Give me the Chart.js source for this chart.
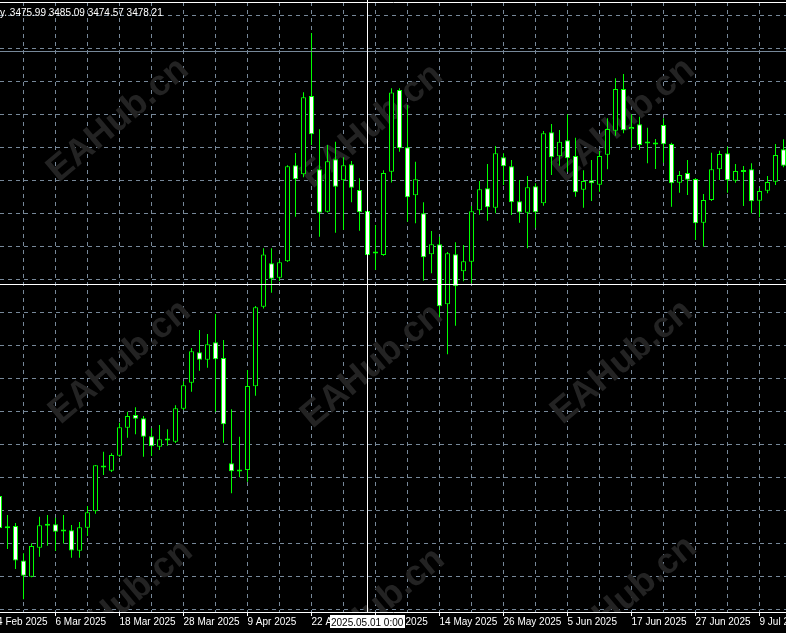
<!DOCTYPE html>
<html lang="en">
<head>
  <meta charset="utf-8">
  <title>XAUUSD Daily</title>
  <script src="https://cdn.jsdelivr.net/npm/chart.js@4"></script>
  <style>
html, body {
  margin: 0;
  padding: 0;
  background: #000;
}
#content {
  width: 786px;
  height: 633px;
}
  </style>
</head>
<body>
  <div id="content">
    <canvas id="price-chart" width="786" height="633"></canvas>
  </div>
  <script>
// daily bars, Feb 24 is off the left edge so it has no values
const dates = [
  '2025.02.24','2025.02.25','2025.02.26','2025.02.27','2025.02.28',
  '2025.03.03','2025.03.04','2025.03.05','2025.03.06','2025.03.07',
  '2025.03.10','2025.03.11','2025.03.12','2025.03.13','2025.03.14',
  '2025.03.17','2025.03.18','2025.03.19','2025.03.20','2025.03.21',
  '2025.03.24','2025.03.25','2025.03.26','2025.03.27','2025.03.28',
  '2025.03.31','2025.04.01','2025.04.02','2025.04.03','2025.04.04',
  '2025.04.07','2025.04.08','2025.04.09','2025.04.10','2025.04.11',
  '2025.04.14','2025.04.15','2025.04.16','2025.04.17','2025.04.21',
  '2025.04.22','2025.04.23','2025.04.24','2025.04.25','2025.04.28',
  '2025.04.29','2025.04.30','2025.05.01','2025.05.02','2025.05.05',
  '2025.05.06','2025.05.07','2025.05.08','2025.05.09','2025.05.12',
  '2025.05.13','2025.05.14','2025.05.15','2025.05.16','2025.05.19',
  '2025.05.20','2025.05.21','2025.05.22','2025.05.23','2025.05.26',
  '2025.05.27','2025.05.28','2025.05.29','2025.05.30','2025.06.02',
  '2025.06.03','2025.06.04','2025.06.05','2025.06.06','2025.06.09',
  '2025.06.10','2025.06.11','2025.06.12','2025.06.13','2025.06.16',
  '2025.06.17','2025.06.18','2025.06.19','2025.06.20','2025.06.23',
  '2025.06.24','2025.06.25','2025.06.26','2025.06.27','2025.06.30',
  '2025.07.01','2025.07.02','2025.07.03','2025.07.04','2025.07.07',
  '2025.07.08','2025.07.09','2025.07.10','2025.07.11','2025.07.14'
];

const opens = [
  null, 2953.7, 2915.5, 2918.3, 2877.6, 2858.4, 2892.7, 2918.6, 2920.3, 2911.8,
  2913.2, 2889.1, 2916.3, 2935.6, 2987.3, 2983.5, 3001.2, 3034.3, 3049.2, 3045.4,
  3024.1, 3011.8, 3019.2, 3017.7, 3056.7, 3087.4, 3123.2, 3114.5, 3135.0, 3116.5,
  2992.3, 2982.6, 2984.3, 3083.1, 3177.0, 3228.3, 3211.3, 3230.6, 3343.9, 3333.3,
  3425.7, 3339.2, 3289.1, 3351.0, 3326.2, 3345.1, 3314.7, 3290.0, 3239.8, 3238.0,
  3336.3, 3432.7, 3365.1, 3308.5, 3287.2, 3238.9, 3250.7, 3179.9, 3238.9, 3218.8,
  3230.1, 3290.8, 3316.8, 3293.9, 3353.3, 3342.7, 3301.4, 3288.0, 3319.1, 3299.1,
  3382.8, 3354.5, 3373.4, 3354.9, 3315.1, 3326.2, 3321.0, 3356.4, 3384.7, 3433.9,
  3386.4, 3392.3, 3369.6, 3369.6, 3391.4, 3369.0, 3323.4, 3334.8, 3327.7, 3276.2,
  3302.9, 3339.2, 3358.1, 3325.7, 3336.0, 3339.2, 3302.1, 3313.9, 3324.5, 3362.8
];

const highs = [
  null, 2957.2, 2931.2, 2921.8, 2886.1, 2897.9, 2929.2, 2931.2, 2928.1, 2931.2,
  2919.4, 2923.0, 2941.9, 2990.2, 3005.9, 3004.1, 3040.2, 3053.1, 3058.3, 3048.1,
  3033.6, 3037.4, 3032.4, 3060.7, 3089.0, 3128.3, 3149.5, 3144.8, 3168.4, 3137.7,
  3056.0, 3023.6, 3102.3, 3177.9, 3245.9, 3245.9, 3232.1, 3344.0, 3358.4, 3430.0,
  3500.0, 3386.4, 3367.8, 3371.7, 3353.3, 3349.0, 3328.6, 3294.7, 3273.4, 3338.0,
  3434.7, 3434.7, 3415.0, 3348.1, 3300.2, 3266.4, 3259.6, 3241.6, 3253.0, 3249.8,
  3295.9, 3325.4, 3345.4, 3366.7, 3358.1, 3350.1, 3326.5, 3331.3, 3322.7, 3384.4,
  3392.6, 3385.5, 3404.1, 3376.5, 3338.0, 3350.1, 3360.8, 3399.4, 3446.6, 3451.6,
  3404.1, 3401.2, 3388.3, 3374.9, 3399.4, 3370.6, 3337.2, 3350.1, 3328.5, 3310.0,
  3358.8, 3361.1, 3365.8, 3345.4, 3343.1, 3346.3, 3316.8, 3331.3, 3369.0, 3374.6
];

const lows = [
  null, 2889.9, 2891.1, 2867.5, 2831.8, 2857.8, 2882.0, 2895.0, 2888.8, 2897.6,
  2880.9, 2880.9, 2906.5, 2932.8, 2978.4, 2982.0, 3000.0, 3022.5, 3026.5, 3000.0,
  3000.9, 3007.9, 3013.0, 3016.2, 3055.1, 3076.7, 3101.5, 3105.1, 3053.1, 3016.6,
  2956.9, 2975.7, 2970.5, 3072.0, 3174.9, 3193.6, 3207.4, 3229.8, 3283.2, 3329.7,
  3367.8, 3259.6, 3288.2, 3264.4, 3267.5, 3300.2, 3266.7, 3202.6, 3220.3, 3237.2,
  3323.6, 3359.9, 3277.3, 3275.4, 3207.7, 3216.4, 3164.5, 3120.9, 3154.6, 3207.0,
  3204.6, 3285.6, 3278.5, 3287.2, 3320.6, 3285.2, 3276.2, 3245.9, 3270.3, 3296.2,
  3332.4, 3343.4, 3336.3, 3306.8, 3293.9, 3301.8, 3312.7, 3339.2, 3378.8, 3381.7,
  3364.7, 3361.9, 3346.3, 3339.5, 3347.0, 3295.0, 3311.6, 3308.8, 3255.7, 3247.8,
  3301.8, 3326.5, 3311.6, 3323.4, 3295.9, 3287.2, 3282.5, 3310.9, 3320.6, 3341.5
];

const closes = [
  null, 2915.9, 2917.0, 2877.6, 2859.6, 2894.7, 2919.1, 2920.6, 2911.5, 2913.2,
  2889.4, 2916.7, 2934.4, 2989.9, 2988.7, 3002.0, 3034.7, 3048.1, 3044.9, 3023.6,
  3012.3, 3020.6, 3020.7, 3057.2, 3084.3, 3124.4, 3114.5, 3132.7, 3115.0, 3038.3,
  2982.8, 2983.4, 3083.5, 3176.3, 3238.6, 3210.1, 3229.4, 3342.7, 3327.4, 3424.1,
  3380.5, 3288.0, 3348.6, 3318.6, 3343.9, 3317.5, 3288.4, 3238.0, 3241.2, 3334.8,
  3429.8, 3364.0, 3306.1, 3327.4, 3235.3, 3250.7, 3177.5, 3240.0, 3201.1, 3230.6,
  3289.6, 3315.6, 3294.3, 3358.1, 3342.7, 3300.2, 3288.2, 3317.9, 3288.4, 3381.7,
  3353.3, 3371.7, 3352.2, 3312.0, 3325.4, 3322.7, 3354.9, 3386.7, 3433.9, 3385.2,
  3389.1, 3367.8, 3370.8, 3368.4, 3368.7, 3322.7, 3332.4, 3326.9, 3275.4, 3302.9,
  3339.2, 3357.2, 3326.2, 3337.2, 3336.6, 3301.4, 3313.6, 3324.2, 3356.0, 3343.4
];

const months = ['Jan', 'Feb', 'Mar', 'Apr', 'May', 'Jun', 'Jul', 'Aug', 'Sep', 'Oct', 'Nov', 'Dec'];

// top left info line and current bid
const headerText = 'y. 3475.99 3485.09 3474.57 3478.21';
const bidPrice = 3478.21;

// crosshair
const crossDate = '2025.05.01';
const crossPrice = 3203.2;
const crossLabel = '2025.05.01 0:00';

const watermark = 'EAHub.cn';

function fmtDate(d) {
  const [y, m, dd] = d.split('.');
  return parseInt(dd, 10) + ' ' + months[parseInt(m, 10) - 1] + ' ' + y;
}

const bodyData = [];
const wickData = [];
dates.forEach((d, i) => {
  if (opens[i] == null) return;
  bodyData.push({x: i, y: [opens[i], closes[i]]});
  wickData.push({x: i, y: [lows[i], highs[i]]});
});

const green = '#00ff00';
const gridColor = '#778899';
const gridLevels = [];
for (let n = 0; n < 19; n++) gridLevels.push(3520.65 - 38.951 * n);

const overlay = {
  id: 'overlay',
  beforeDatasetsDraw(chart) {
    const {ctx, chartArea: a} = chart;
    ctx.save();
    ctx.beginPath();
    ctx.rect(a.left, a.top, a.right - a.left, a.bottom - a.top);
    ctx.clip();
    ctx.fillStyle = '#232323';
    ctx.font = 'bold 36px "Liberation Sans"';
    ctx.textAlign = 'center';
    ctx.textBaseline = 'middle';
    [[118, 120], [372, 126], [624, 120], [120, 362], [372, 366], [622, 362], [122, 602], [374, 610], [626, 598]].forEach(([x, y]) => {
      ctx.save();
      ctx.translate(x, y);
      ctx.rotate(-40 * Math.PI / 180);
      ctx.fillText(watermark, 0, 0);
      ctx.restore();
    });
    ctx.restore();
  },
  afterDatasetsDraw(chart) {
    const {ctx, chartArea: a, scales} = chart;
    ctx.save();
    ctx.lineWidth = 1;
    // bid line
    let y = Math.round(scales.y.getPixelForValue(bidPrice) - 0.5) + 0.5;
    ctx.strokeStyle = gridColor;
    ctx.beginPath();
    ctx.moveTo(a.left, y);
    ctx.lineTo(a.right, y);
    ctx.stroke();
    // crosshair
    const x = Math.round(scales.x.getPixelForValue(dates.indexOf(crossDate)) - 0.5) + 0.5;
    y = Math.round(scales.y.getPixelForValue(crossPrice) - 0.5) + 0.5;
    ctx.strokeStyle = '#ffffff';
    ctx.beginPath();
    ctx.moveTo(a.left, y);
    ctx.lineTo(a.right, y);
    ctx.moveTo(x, 0);
    ctx.lineTo(x, a.bottom);
    ctx.stroke();
    ctx.restore();
  },
  afterDraw(chart) {
    const {ctx, chartArea: a, scales} = chart;
    ctx.save();
    ctx.font = '10px "Liberation Sans"';
    ctx.textBaseline = 'alphabetic';
    ctx.textAlign = 'left';
    ctx.fillStyle = '#ffffff';
    ctx.fillText(headerText, 0, 16);
    // date box under the crosshair
    const x = scales.x.getPixelForValue(dates.indexOf(crossDate));
    const w = Math.ceil(ctx.measureText(crossLabel).width) + 2;
    const left = Math.round(x - w / 2);
    ctx.fillRect(left, a.bottom + 3, w, 13);
    ctx.fillStyle = '#000000';
    ctx.fillText(crossLabel, left + 1, a.bottom + 14);
    ctx.restore();
  }
};

Chart.defaults.font.family = '"Liberation Sans", Arial, sans-serif';
Chart.defaults.font.size = 10;
Chart.defaults.color = '#ffffff';

const config = {
  type: 'bar',
  data: {
    datasets: [
      {
        label: 'body',
        data: bodyData,
        grouped: false,
        barThickness: 5,
        minBarLength: 2,
        borderWidth: 1,
        borderColor: green,
        borderSkipped: false,
        inflateAmount: 0,
        backgroundColor: (c) => {
          if (!c.raw) return '#000000';
          const i = c.raw.x;
          return closes[i] < opens[i] ? '#ffffff' : '#000000';
        }
      },
      {
        label: 'wick',
        data: wickData,
        grouped: false,
        barThickness: 1,
        borderWidth: 0,
        inflateAmount: 0,
        backgroundColor: green
      }
    ]
  },
  options: {
    responsive: false,
    animation: false,
    events: [],
    layout: { padding: 0 },
    plugins: {
      legend: { display: false },
      tooltip: { enabled: false },
      title: { display: false }
    },
    scales: {
      x: {
        type: 'linear',
        position: 'bottom',
        bounds: 'data',
        offset: false,
        min: 1.0625,
        max: 99.3125,
        afterBuildTicks: (s) => {
          s.ticks = [];
          for (let v = 0; v < dates.length; v += 4) s.ticks.push({ value: v });
        },
        afterFit: (s) => {
          s.height = 21;
          s.paddingLeft = 0;
          s.paddingRight = 0;
        },
        ticks: {
          autoSkip: false,
          maxRotation: 0,
          minRotation: 0,
          align: 'start',
          padding: 0,
          color: '#ffffff',
          callback: (v) => (v % 8 === 0 ? fmtDate(dates[v]) : '')
        },
        grid: {
          offset: false,
          color: gridColor,
          tickLength: 4,
          tickBorderDash: [],
          tickColor: (c) => (c.tick && c.tick.value % 8 === 0 ? '#ffffff' : 'rgba(0,0,0,0)')
        },
        border: { color: '#ffffff', dash: [4, 4] }
      },
      xTop: {
        type: 'linear',
        position: 'top',
        offset: false,
        ticks: { display: false },
        grid: { display: false, drawTicks: false },
        border: { display: true, color: '#ffffff' },
        afterFit: (s) => {
          s.height = 2;
          s.paddingLeft = 0;
          s.paddingRight = 0;
        }
      },
      y: {
        type: 'linear',
        position: 'right',
        bounds: 'data',
        min: 2816.78,
        max: 3536.58,
        afterBuildTicks: (s) => {
          s.ticks = gridLevels.map((v) => ({ value: v }));
        },
        afterFit: (s) => {
          s.width = 0;
        },
        ticks: { display: false },
        grid: { color: gridColor, drawTicks: false },
        border: { display: false, dash: [4, 4] }
      }
    }
  },
  plugins: [overlay]
};

const priceChart = new Chart(document.getElementById('price-chart'), config);
  </script>
</body>
</html>
